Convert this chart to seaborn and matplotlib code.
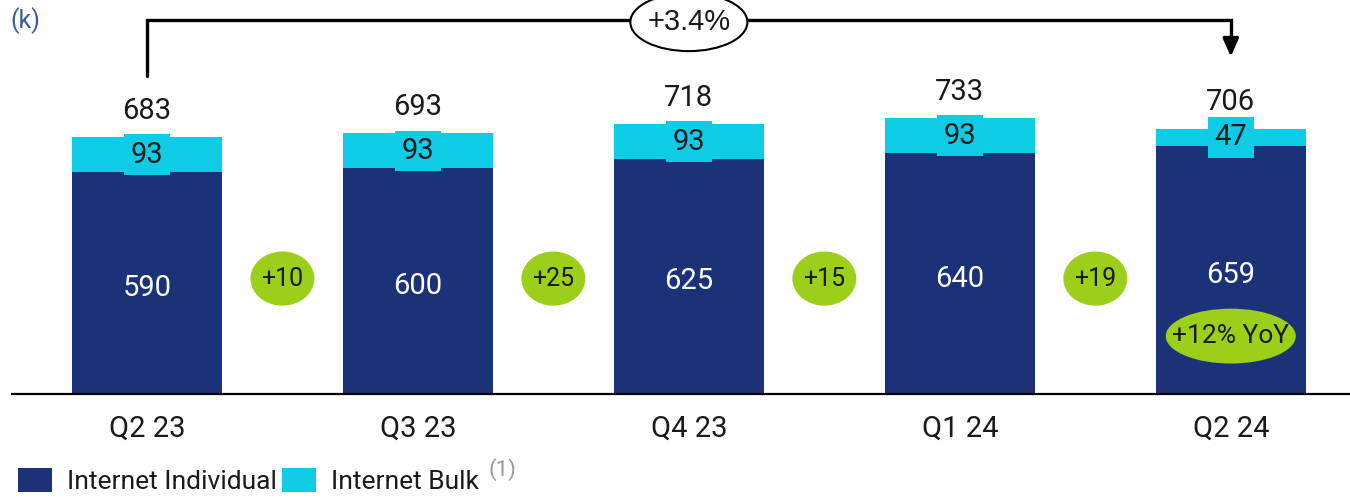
import matplotlib
matplotlib.use("Agg")
import matplotlib.pyplot as plt
from matplotlib.patches import Ellipse, Patch
import pandas as pd
import seaborn as sns

# Quarterly internet subscribers (thousands)
quarters = ["Q2 23", "Q3 23", "Q4 23", "Q1 24", "Q2 24"]
individual = [590, 600, 625, 640, 659]
bulk = [93, 93, 93, 93, 47]
totals = [683, 693, 718, 733, 706]
qoq_changes = ["+10", "+25", "+15", "+19"]
yoy_label = "+12% YoY"
period_growth = "+3.4%"

NAVY = "#1B3178"
CYAN = "#0FCCE6"
GREEN = "#9BCF1A"
INK = "#1a1a1a"

df = pd.DataFrame({"quarter": quarters, "individual": individual,
                   "bulk": bulk, "total": totals})

sns.set_theme(style="white")
plt.rcParams["font.family"] = ["Roboto", "DejaVu Sans"]

fig = plt.figure(figsize=(13.5, 4.98), dpi=100)
ax = fig.add_axes([12 / 1350, 1 - 394 / 498, 1 - 12 / 1350, 394 / 498])

bar_w = 0.553
# stacked bars: total (bulk on top) drawn first, individual over it
sns.barplot(data=df, x="quarter", y="total", color=CYAN, width=bar_w,
            saturation=1, edgecolor="none", ax=ax)
sns.barplot(data=df, x="quarter", y="individual", color=NAVY, width=bar_w,
            saturation=1, edgecolor="none", ax=ax)

ax.set_xlim(-0.498, 4.44)
ax.set_ylim(0, 1048)
ax.set_xlabel("")
ax.set_ylabel("")
ax.set_yticks([])
for s in ["top", "left", "right"]:
    ax.spines[s].set_visible(False)
ax.spines["bottom"].set_color("black")
ax.spines["bottom"].set_linewidth(1.6)
ax.tick_params(axis="x", length=0, pad=15, labelsize=21, labelcolor=INK)

for i, (ind, bk, tot) in enumerate(zip(individual, bulk, totals)):
    ax.text(i, tot + 70, f"{tot}", ha="center", va="center",
            fontsize=21, color=INK)
    ax.text(i, ind + bk / 2, f"{bk}", ha="center", va="center",
            fontsize=21, color=INK,
            bbox=dict(boxstyle="square,pad=0.22", fc=CYAN, ec="none"))
    ax.text(i, ind * 0.48, f"{ind}", ha="center", va="center",
            fontsize=21, color="white")

# quarter-on-quarter change badges between bars
for i, lab in enumerate(qoq_changes):
    ax.add_patch(Ellipse((i + 0.5, 307), 0.236, 144, fc=GREEN, ec="none"))
    ax.text(i + 0.5, 307, lab, ha="center", va="center", fontsize=18,
            color=INK)

# year-on-year badge inside the last bar
ax.add_patch(Ellipse((4, 154), 0.48, 146, fc=GREEN, ec="none"))
ax.text(4, 154, yoy_label, ha="center", va="center", fontsize=19,
        color=INK)

# growth bracket from first to last quarter
y_line = 995
ax.plot([0, 0, 4, 4], [846, y_line, y_line, 950], color="black", lw=2.4,
        solid_joinstyle="miter", clip_on=False, zorder=3)
ax.annotate("", xy=(4, 890), xytext=(4, 955),
            arrowprops=dict(arrowstyle="-|>,head_length=0.9,head_width=0.4",
                            color="black", lw=2.4), zorder=3)
ax.add_patch(Ellipse((2, 989), 0.432, 154, fc="white", ec="black", lw=1.5,
                     zorder=4))
ax.text(2, 989, period_growth, ha="center", va="center", fontsize=21,
        color=INK, family=["Liberation Sans", "DejaVu Sans"], zorder=5)

fig.text(10 / 1350, 1 - 21 / 498, "(k)", ha="left", va="center",
         fontsize=18, color="#3D5A99")

handles = [Patch(fc=NAVY, ec="none"), Patch(fc=CYAN, ec="none")]
leg = fig.legend(handles, ["Internet Individual", "Internet Bulk"],
                 loc="lower left", bbox_to_anchor=(14 / 1350, 0.0),
                 ncol=2, frameon=False, fontsize=19,
                 handlelength=1.3, handleheight=1.05, handletextpad=0.55,
                 columnspacing=0.2, borderpad=0.15, borderaxespad=0.0)
for t in leg.get_texts():
    t.set_color(INK)

fig.canvas.draw()
bb = leg.get_texts()[1].get_window_extent()
fig.text((bb.x1 + 10) / 1350, (bb.y1 + 12) / 498, "(1)", ha="left",
         va="top", fontsize=16, color="#9a9a9a")

fig.savefig("out.png", dpi=100)
